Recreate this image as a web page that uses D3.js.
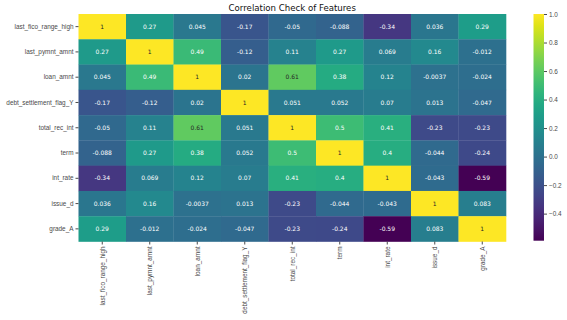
<!DOCTYPE html>
<meta charset="utf-8">
<head>
	<title>Correlation Check of Features</title>
</head>

<style>
body{
	margin: 0;
	background: #fff;
}
svg{
	font-family: "DejaVu Sans", sans-serif;
}
.tick text{
	fill: #4a4a4a;
}
.tick line{
	stroke: #4a4a4a;
}
</style>

<body>
<svg width="567" height="320"></svg>

<script src="https://cdnjs.cloudflare.com/ajax/libs/d3/7.8.5/d3.min.js"></script>
<script>

// feature names (rows and columns)
var features = ['last_fico_range_high', 'last_pymnt_amnt', 'loan_amnt', 'debt_settlement_flag_Y',
	'total_rec_int', 'term', 'int_rate', 'issue_d', 'grade_A'];

// correlation rows
var r_last_fico = [1, 0.27, 0.045, -0.17, -0.05, -0.088, -0.34, 0.036, 0.29];
var r_last_pymnt = [0.27, 1, 0.49, -0.12, 0.11, 0.27, 0.069, 0.16, -0.012];
var r_loan_amnt = [0.045, 0.49, 1, 0.02, 0.61, 0.38, 0.12, -0.0037, -0.024];
var r_debt_flag = [-0.17, -0.12, 0.02, 1, 0.051, 0.052, 0.07, 0.013, -0.047];
var r_total_rec_int = [-0.05, 0.11, 0.61, 0.051, 1, 0.5, 0.41, -0.23, -0.23];
var r_term = [-0.088, 0.27, 0.38, 0.052, 0.5, 1, 0.4, -0.044, -0.24];
var r_int_rate = [-0.34, 0.069, 0.12, 0.07, 0.41, 0.4, 1, -0.043, -0.59];
var r_issue_d = [0.036, 0.16, -0.0037, 0.013, -0.23, -0.044, -0.043, 1, 0.083];
var r_grade_A = [0.29, -0.012, -0.024, -0.047, -0.23, -0.24, -0.59, 0.083, 1];

var colorbar_ticks = [-0.4, -0.2, 0.0, 0.2, 0.4, 0.6, 0.8, 1.0];

var matrix = [r_last_fico, r_last_pymnt, r_loan_amnt, r_debt_flag, r_total_rec_int,
	r_term, r_int_rate, r_issue_d, r_grade_A];

var cells = [];
matrix.forEach(function(row, i){
	row.forEach(function(v, j){
		cells.push({row: features[i], col: features[j], value: v});
	});
});

var svg = d3.select('svg');

var x = d3.scaleBand().domain(features).range([78.5, 506]);
var y = d3.scaleBand().domain(features).range([14, 241.5]);

var vmin = d3.min(cells, function(d){ return d.value; });
var vmax = d3.max(cells, function(d){ return d.value; });
var color = d3.scaleSequential(d3.interpolateViridis).domain([vmin, vmax]);

// annotation format like seaborn (.2g, plain hyphen)
var fmt = d3.formatLocale({decimal: '.', thousands: ',', grouping: [3], currency: ['', ''], minus: '-'}).format('.2~g');

function luminance(c){
	var rgb = d3.rgb(c);
	var lin = [rgb.r, rgb.g, rgb.b].map(function(v){
		v = v / 255;
		return v <= 0.03928 ? v / 12.92 : Math.pow((v + 0.055) / 1.055, 2.4);
	});
	return 0.2126 * lin[0] + 0.7152 * lin[1] + 0.0722 * lin[2];
}

// title
svg.append('text')
	.attr('x', (78.5 + 506) / 2)
	.attr('y', 10.5)
	.attr('text-anchor', 'middle')
	.style('font-size', '8.6px')
	.style('fill', '#111')
	.text('Correlation Check of Features');

// cells
svg.append('g')
	.selectAll('rect')
	.data(cells)
	.enter()
	.append('rect')
	.attr('x', function(d){ return x(d.col); })
	.attr('y', function(d){ return y(d.row); })
	.attr('width', x.bandwidth() + 0.3)
	.attr('height', y.bandwidth() + 0.3)
	.style('fill', function(d){ return color(d.value); });

svg.append('g')
	.selectAll('text')
	.data(cells)
	.enter()
	.append('text')
	.attr('x', function(d){ return x(d.col) + x.bandwidth() / 2; })
	.attr('y', function(d){ return y(d.row) + y.bandwidth() / 2; })
	.attr('text-anchor', 'middle')
	.attr('dy', '0.35em')
	.style('font-size', '6px')
	.style('fill', function(d){ return luminance(color(d.value)) > 0.408 ? '#262626' : '#fff'; })
	.text(function(d){ return fmt(d.value); });

// axes
var yAxis = svg.append('g')
	.attr('transform', 'translate(78.5,0)')
	.call(d3.axisLeft(y).tickSize(3).tickPadding(2));
yAxis.select('.domain').remove();
yAxis.selectAll('text').style('font-size', '6.4px');

var xAxis = svg.append('g')
	.attr('transform', 'translate(0,241.5)')
	.call(d3.axisBottom(x).tickSize(3).tickPadding(2));
xAxis.select('.domain').remove();
xAxis.selectAll('text')
	.style('font-size', '6.4px')
	.attr('text-anchor', 'end')
	.attr('transform', 'rotate(-90)')
	.attr('x', -5)
	.attr('y', 0)
	.attr('dy', '0.35em');

// colorbar
var cb = {x: 533.5, w: 10.5, top: 14, bottom: 240.7};
var cbScale = d3.scaleLinear().domain([vmin, vmax]).range([cb.bottom, cb.top]);

var grad = svg.append('defs').append('linearGradient')
	.attr('id', 'cbgrad')
	.attr('x1', 0).attr('y1', 1).attr('x2', 0).attr('y2', 0);
grad.selectAll('stop')
	.data(d3.range(0, 1.0001, 0.05))
	.enter()
	.append('stop')
	.attr('offset', function(d){ return d; })
	.attr('stop-color', function(d){ return d3.interpolateViridis(d); });

svg.append('rect')
	.attr('x', cb.x)
	.attr('y', cb.top)
	.attr('width', cb.w)
	.attr('height', cb.bottom - cb.top)
	.style('fill', 'url(#cbgrad)');

var cbAxis = svg.append('g')
	.attr('transform', 'translate(' + (cb.x + cb.w) + ',0)')
	.call(d3.axisRight(cbScale).tickValues(colorbar_ticks).tickFormat(d3.format('.1f')).tickSize(3).tickPadding(2));
cbAxis.select('.domain').remove();
cbAxis.selectAll('text').style('font-size', '6.4px');

</script>

</body>
</html>
